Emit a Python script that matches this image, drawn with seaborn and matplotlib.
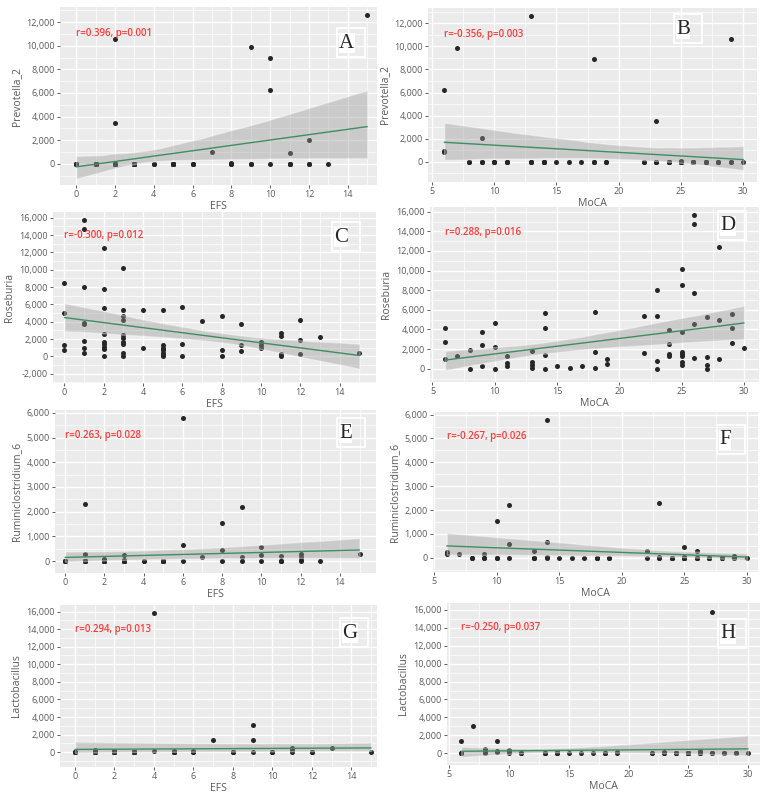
import matplotlib
matplotlib.use("Agg")
import matplotlib.pyplot as plt
import matplotlib.ticker as mticker
from matplotlib.patches import Rectangle
import seaborn as sns
import pandas as pd

# A: EFS vs Prevotella_2 (zeros overlap heavily)
a_efs = [0, 0, 0, 0, 1, 1, 1, 1, 1, 1, 1, 1, 2, 2, 2, 2, 2, 2, 2, 2, 2,
         3, 3, 3, 3, 3, 3, 3, 3, 3, 3, 4, 4, 5, 5, 5, 5, 5, 5, 5, 6, 6, 6, 7,
         8, 8, 8, 9, 9, 9, 10, 10, 10, 11, 11, 11, 11, 12, 12, 12, 13, 15]
a_prevotella = [0, 0, 0, 0, 0, 0, 0, 0, 0, 0, 0, 0, 10600, 3500, 0, 0, 0, 0, 0, 0, 0,
                0, 0, 0, 0, 0, 0, 0, 0, 0, 0, 0, 0, 0, 0, 0, 0, 0, 0, 0, 0, 0, 0, 1000,
                50, 0, 0, 9900, 0, 0, 8950, 6250, 0, 900, 0, 0, 0, 2050, 0, 0, 0, 12600]

# B: MoCA vs Prevotella_2
b_moca = [6, 6, 6, 7, 8, 8, 9, 9, 9, 10, 10, 10, 11, 11, 11, 13, 13, 13, 13,
          14, 14, 14, 14, 15, 16, 17, 18, 18, 18, 19, 19, 22, 22, 23, 23, 23, 23,
          24, 24, 24, 24, 25, 25, 25, 25, 25, 25, 25, 25, 26, 26, 26, 26, 26,
          27, 27, 27, 27, 28, 28, 28, 29, 29, 29, 30]
b_prevotella = [6250, 950, 850, 9900, 0, 0, 2050, 0, 0, 0, 0, 0, 0, 0, 0, 12600, 0, 0, 0,
                0, 0, 0, 0, 0, 0, 0, 8950, 0, 0, 0, 0, 0, 0, 3500, 0, 0, 0,
                0, 0, 0, 0, 50, 0, 0, 0, 0, 0, 0, 0, 0, 0, 0, 0, 0,
                0, 0, 0, 0, 0, 0, 0, 10600, 0, 0, 0]

# C: EFS vs Roseburia
c_efs = [0, 0, 0, 0, 1, 1, 1, 1, 1, 1, 1, 1, 2, 2, 2, 2, 2, 2, 2, 2, 2,
         3, 3, 3, 3, 3, 3, 3, 3, 3, 3, 4, 4, 5, 5, 5, 5, 5, 5, 5, 6, 6, 6, 7,
         8, 8, 8, 9, 9, 9, 10, 10, 10, 11, 11, 11, 11, 12, 12, 12, 13, 15]
c_roseburia = [8500, 4950, 1300, 750, 15700, 14750, 8000, 3850, 3700, 1750, 1000, 400,
               12450, 7750, 5600, 2600, 1600, 1400, 1100, 800, 0,
               10200, 5400, 4600, 4150, 2500, 2100, 1600, 1400, 400, 0, 5300, 1000,
               5400, 1300, 1000, 700, 400, 200, 0, 5750, 1400, 50, 4100,
               4650, 750, 0, 3750, 1300, 650, 1700, 1300, 1000, 2700, 2400, 300, 0,
               4150, 1900, 250, 2250, 400]

# D: MoCA vs Roseburia
d_moca = [6, 6, 6, 7, 8, 8, 9, 9, 9, 10, 10, 10, 11, 11, 11, 13, 13, 13, 13,
          14, 14, 14, 14, 15, 16, 17, 18, 18, 18, 19, 19, 22, 22, 23, 23, 23, 23,
          24, 24, 24, 24, 25, 25, 25, 25, 25, 25, 25, 25, 26, 26, 26, 26, 26,
          27, 27, 27, 27, 28, 28, 28, 29, 29, 29, 30]
d_roseburia = [4100, 2750, 1000, 1250, 1900, 0, 3750, 2400, 250, 4650, 2250, 0,
               1250, 600, 300, 1850, 700, 400, 50, 5700, 4150, 1400, 0, 300, 50, 300,
               5800, 1750, 50, 1000, 500, 5400, 1600, 8000, 5400, 800, 0,
               3900, 2500, 1500, 1250, 10200, 8500, 3700, 1750, 1500, 1300, 700, 400,
               15700, 14750, 7750, 4600, 1100, 5300, 1200, 400, 0, 12450, 4950, 1000,
               5600, 4150, 2600, 2100]

# E: EFS vs Ruminiclostridium_6
e_efs = [0, 0, 0, 0, 1, 1, 1, 1, 1, 1, 1, 1, 2, 2, 2, 2, 2, 2, 2, 2, 2,
         3, 3, 3, 3, 3, 3, 3, 3, 3, 3, 4, 4, 5, 5, 5, 5, 5, 5, 5, 6, 6, 6, 7,
         8, 8, 8, 9, 9, 9, 10, 10, 10, 11, 11, 11, 11, 12, 12, 12, 12, 13, 15]
e_rumini = [0, 0, 0, 0, 2300, 270, 0, 0, 0, 0, 0, 0, 80, 0, 0, 0, 0, 0, 0, 0, 0,
            260, 30, 0, 0, 0, 0, 0, 0, 0, 0, 0, 0, 20, 0, 0, 0, 0, 0, 0, 5780, 650, 0, 150,
            1530, 430, 0, 2200, 160, 0, 580, 230, 0, 220, 0, 0, 0, 270, 180, 50, 0, 0, 300]

# F: MoCA vs Ruminiclostridium_6
f_moca = [6, 6, 6, 7, 8, 8, 9, 9, 9, 10, 10, 10, 11, 11, 11, 13, 13, 13, 13,
          14, 14, 14, 14, 15, 16, 17, 18, 18, 18, 19, 19, 22, 22, 23, 23, 23, 23,
          24, 24, 24, 24, 25, 25, 25, 25, 25, 25, 25, 25, 26, 26, 26, 26, 26,
          27, 27, 27, 27, 28, 28, 28, 29, 29, 29, 30]
f_rumini = [230, 180, 150, 160, 0, 0, 170, 0, 0, 1530, 0, 0, 2200, 580, 0, 280, 0, 0, 0,
            5780, 650, 30, 0, 0, 0, 0, 0, 0, 0, 0, 0, 270, 0, 2300, 30, 0, 0,
            0, 0, 0, 0, 430, 50, 0, 0, 0, 0, 0, 0, 270, 0, 0, 0, 0,
            0, 0, 0, 0, 0, 0, 0, 80, 0, 0, 0]

# G: EFS vs Lactobacillus
g_efs = [0, 0, 0, 0, 1, 1, 1, 1, 1, 1, 1, 1, 2, 2, 2, 2, 2, 2, 2, 2, 2,
         3, 3, 3, 3, 3, 3, 3, 3, 3, 3, 4, 4, 5, 5, 5, 5, 5, 5, 5, 6, 6, 6, 7,
         8, 8, 8, 9, 9, 9, 10, 10, 10, 11, 11, 11, 11, 12, 12, 12, 13, 15]
g_lacto = [50, 0, 0, 0, 300, 0, 0, 0, 0, 0, 0, 0, 100, 0, 0, 0, 0, 0, 0, 0, 0,
           0, 0, 0, 0, 0, 0, 0, 0, 0, 0, 15800, 100, 100, 0, 0, 0, 0, 0, 0, 100, 0, 0, 1350,
           0, 0, 0, 3050, 1350, 0, 0, 0, 0, 500, 300, 100, 0, 50, 0, 0, 450, 0]

# H: MoCA vs Lactobacillus
h_moca = [6, 6, 6, 7, 8, 8, 8, 9, 9, 9, 10, 10, 10, 11, 11, 11, 13, 13, 13, 13,
          14, 14, 14, 14, 15, 16, 17, 18, 18, 18, 19, 19, 22, 22, 23, 23, 23, 23,
          24, 24, 24, 24, 25, 25, 25, 25, 25, 25, 25, 25, 26, 26, 26, 26, 26,
          27, 27, 27, 27, 28, 28, 28, 29, 29, 29, 30]
h_lacto = [1350, 0, 0, 3050, 500, 300, 0, 1350, 300, 150, 400, 200, 0, 0, 0, 0, 50, 0, 0, 0,
           100, 0, 0, 0, 0, 50, 0, 0, 0, 0, 100, 0, 0, 0, 100, 0, 0, 0,
           0, 0, 0, 0, 0, 0, 0, 0, 0, 0, 0, 0, 300, 0, 0, 0, 0,
           15800, 0, 0, 0, 0, 0, 0, 0, 0, 0, 0]

letters = ["A", "B", "C", "D", "E", "F", "G", "H"]
x_names = ["EFS", "MoCA"] * 4
y_names = ["Prevotella_2", "Prevotella_2", "Roseburia", "Roseburia",
           "Ruminiclostridium_6", "Ruminiclostridium_6", "Lactobacillus", "Lactobacillus"]
stats = ["r=0.396, p=0.001", "r=-0.356, p=0.003", "r=-0.300, p=0.012",
         "r=0.288, p=0.016", "r=0.263, p=0.028", "r=-0.267, p=0.026",
         "r=0.294, p=0.013", "r=-0.250, p=0.037"]
xs = [a_efs, b_moca, c_efs, d_moca, e_efs, f_moca, g_efs, h_moca]
ys = [a_prevotella, b_prevotella, c_roseburia, d_roseburia,
      e_rumini, f_rumini, g_lacto, h_lacto]

# layout (pixels) and axis ranges
rects = [(60, 7, 377, 185), (428, 8, 757, 182), (53, 212, 376, 383), (430, 207, 759, 382),
         (55, 410, 376, 573), (433, 412, 758, 572), (60, 605, 377, 767), (447, 603, 760, 765)]
xlims = [(-0.83, 15.5), (4.7, 31.1), (-0.58, 15.84), (4.8, 31.2),
         (-0.51, 15.84), (4.9, 30.9), (-0.76, 15.3), (4.8, 31.0)]
ylims = [(-1780, 13270), (-1760, 13330), (-3075, 16660), (-1355, 16480),
         (-486, 6120), (-600, 6110), (-1675, 16740), (-1315, 16770)]
ysteps = [2000, 2000, 2000, 2000, 1000, 1000, 2000, 2000]
stat_y = [11000, 11000, 13900, 13900, 5100, 5100, 14000, 14000]
boxes = [(337, 28), (674, 14), (332, 222), (718, 211), (337, 418), (717, 425), (340, 618), (718, 619)]

sns.set_theme(style="darkgrid", rc={"axes.facecolor": "#EBEBEB", "grid.color": "white"})
plt.rcParams["font.family"] = ["Open Sans", "DejaVu Sans"]

W, H = 767, 794
fig = plt.figure(figsize=(W / 100, H / 100), dpi=100)
fig.patch.set_facecolor("white")

for i in range(8):
    x0, y0, x1, y1 = rects[i]
    ax = fig.add_axes([x0 / W, 1 - y1 / H, (x1 - x0) / W, (y1 - y0) / H])
    df = pd.DataFrame({x_names[i]: xs[i], y_names[i]: ys[i]})
    sns.scatterplot(data=df, x=x_names[i], y=y_names[i], ax=ax, color="#262626",
                    s=13, linewidth=0, zorder=3)
    sns.regplot(data=df, x=x_names[i], y=y_names[i], ax=ax, scatter=False,
                color="#3d8f62", seed=0, line_kws={"lw": 1.0, "zorder": 5})
    band = ax.collections[-1]
    band.set_facecolor("#999999")
    band.set_alpha(0.4)
    band.set_zorder(4)

    ax.set_xlim(*xlims[i])
    ax.set_ylim(*ylims[i])
    ax.xaxis.set_major_locator(mticker.MultipleLocator(2 if x_names[i] == "EFS" else 5))
    ax.yaxis.set_major_locator(mticker.MultipleLocator(ysteps[i]))
    ax.xaxis.set_minor_locator(mticker.AutoMinorLocator(2))
    ax.yaxis.set_minor_locator(mticker.AutoMinorLocator(2))
    ax.yaxis.set_major_formatter(mticker.FuncFormatter(lambda v, p: f"{v:,.0f}"))
    ax.grid(which="major", color="white", lw=1.0)
    ax.grid(which="minor", color="white", lw=0.5)
    for s in ax.spines.values():
        s.set_visible(False)
    ax.tick_params(which="major", bottom=True, left=True, length=2.5, width=0.6,
                   color="#444444", labelsize=6.5, labelcolor="#5a5a5a", pad=1.2)
    ax.tick_params(which="minor", length=0)
    ax.set_xlabel(x_names[i], fontsize=7.5, color="#5a5a5a", labelpad=1)
    ax.set_ylabel(y_names[i], fontsize=7.5, color="#5a5a5a", labelpad=3)

    ax.text(min(xs[i]), stat_y[i], stats[i], color="#FF3B3B", fontsize=7,
            fontweight="semibold", va="center", ha="left", zorder=6)

    bx, by = boxes[i]
    fig.add_artist(Rectangle((bx / W, 1 - (by + 29) / H), 28 / W, 29 / H,
                             transform=fig.transFigure, facecolor="none",
                             edgecolor="white", lw=1.3, zorder=10))
    fig.text((bx + 2) / W, 1 - (by + 15) / H, letters[i], family="Liberation Serif",
             fontsize=15, ha="left", va="center", zorder=11,
             bbox=dict(facecolor="white", edgecolor="none", pad=0.3))

fig.savefig("out.png", dpi=100)
